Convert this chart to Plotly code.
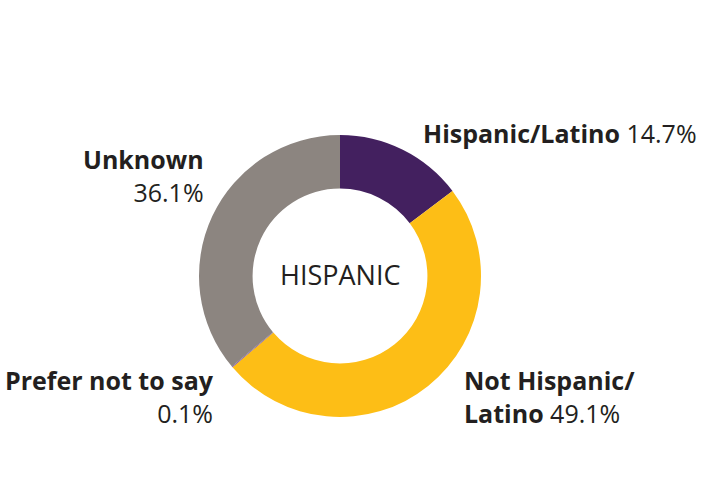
import plotly.graph_objects as go

labels = ["Hispanic/Latino", "Not Hispanic/Latino", "Prefer not to say", "Unknown"]
values = [14.7, 49.1, 0.1, 36.1]
colors = ["#43205F", "#FDBE16", "#7B4FA0", "#8C8580"]
center_text = "HISPANIC"

W, H = 717, 497
cx, cy, r = 340, 276, 141

fig = go.Figure(go.Pie(
    labels=labels, values=values, sort=False, direction="clockwise", rotation=0,
    hole=0.62, marker=dict(colors=colors, line=dict(width=0)),
    textinfo="none", hoverinfo="label+percent", showlegend=False,
    domain=dict(x=[(cx - r) / W, (cx + r) / W], y=[(H - cy - r) / H, (H - cy + r) / H]),
))

FAM = "Open Sans, Lato, sans-serif"
font = dict(family=FAM, size=25, color="#231F20")
def px(x): return x / W
def py(y): return 1 - y / H

ann = [
    dict(x=px(421), y=py(133), xanchor="left", align="left",
         text=f"<b>{labels[0]}</b> {values[0]}%"),
    dict(x=px(462), y=py(396), xanchor="left", align="left",
         text=f"<b>Not Hispanic/</b><br><b>Latino</b> {values[1]}%"),
    dict(x=px(216), y=py(396), xanchor="right", align="right",
         text=f"<b>{labels[2]}</b><br>{values[2]}%"),
    dict(x=px(206), y=py(175), xanchor="right", align="right",
         text=f"<b>{labels[3]}</b><br>{values[3]}%"),
    dict(x=px(cx), y=py(cy - 2), xanchor="center", align="center",
         text=center_text, font=dict(family=FAM, size=27, color="#231F20")),
]
for a in ann:
    a.update(xref="paper", yref="paper", yanchor="middle", showarrow=False)
    a.setdefault("font", font)

fig.update_layout(width=W, height=H, margin=dict(l=0, r=0, t=0, b=0),
                  paper_bgcolor="white", plot_bgcolor="white", annotations=ann)
fig.write_html("out.html")
